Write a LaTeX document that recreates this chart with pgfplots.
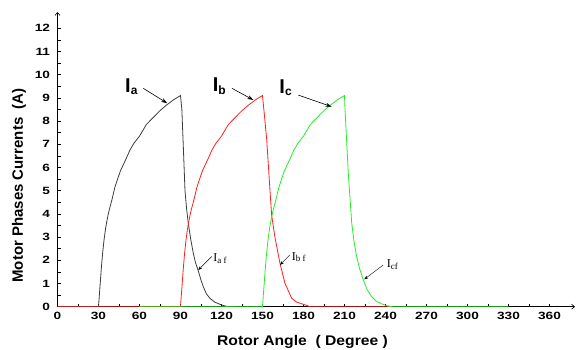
\documentclass[border=0pt]{standalone}
\usepackage{pgfplots}
\pgfplotsset{compat=1.18}
\usepackage{fontspec}
\setmainfont{Liberation Sans}
\newfontfamily\tickfont{Liberation Sans}[FakeStretch=1.3]
\newfontfamily\labfont{Liberation Sans}[FakeStretch=1.12]
\newfontfamily\serfont{Liberation Serif}
\usetikzlibrary{arrows.meta}
\definecolor{cA}{RGB}{60,60,60}
\definecolor{cB}{RGB}{255,30,30}
\definecolor{cC}{RGB}{40,235,40}
\newcommand\bigI[1]{{\fontsize{20}{20}\selectfont\bfseries I}\raisebox{-2.5pt}{\fontsize{12}{12}\selectfont\bfseries #1}}
\newcommand\smallI[1]{{\serfont\fontsize{12}{12}\selectfont I}\raisebox{-1.5pt}{\serfont\fontsize{9}{9}\selectfont #1}}
\begin{document}
\begin{tikzpicture}
\begin{axis}[
  scale only axis, width=517.5pt, height=294.7pt,
  xmin=0, xmax=378.7, ymin=0, ymax=12.7,
  axis lines=left,
  axis line style={line width=0.6pt,-{Straight Barb[length=3pt,width=5pt]}},
  xtick={0,30,...,360}, minor x tick num=1,
  ytick={0,1,...,12}, minor y tick num=1,
  tick align=inside, major tick length=3pt, minor tick length=3pt,
  tick style={black, line width=0.5pt},
  /pgf/number format/assume math mode=true,
  ticklabel style={font=\tickfont\bfseries\fontsize{10.5}{12}\selectfont},
  xticklabel style={yshift=-2pt},
  yticklabel style={xshift=-4pt},
  xlabel={\labfont\bfseries\fontsize{14}{16}\selectfont Rotor Angle\ \ ( Degree )},
  xlabel style={at={(axis description cs:0.4735,0)}, anchor=base, yshift=-38.3pt},
  ylabel={\bfseries\fontsize{15}{17}\selectfont Motor Phases Currents\ \ (A)},
  ylabel style={at={(axis description cs:-0.0744,0.4113)}, anchor=center},
  every axis plot/.append style={line width=0.8pt, no marks},
]
\addplot[cA] coordinates {
(0,0) (30,0) (31,0.8) (32,1.6) (33,2.3) (34,2.85) (35,3.3) (36,3.65) (37,3.95) (38,4.2)
(40,4.65) (42,5.15) (44,5.5) (46,5.85) (48,6.1) (50,6.35) (53,6.75) (56,7.05) (60,7.35)
(65,7.85) (70,8.15) (75,8.45) (80,8.7) (85,8.92) (90,9.1)
(91,8.5) (92.2,6.7) (93.3,5.0) (94.5,4.2) (95.7,3.6) (97.5,2.9) (99.4,2.3) (101,1.9)
(103,1.55) (105,1.15) (106.7,0.86) (109,0.55) (111.6,0.36) (115,0.2) (119,0.1) (122,0.04)
(125,0) (130,0)
};
\addplot[cB] coordinates {
(0,0) (90,0) (91,0.8) (92,1.6) (93,2.3) (94,2.85) (95,3.3) (96,3.65) (97,3.95) (98,4.2)
(100,4.65) (102,5.15) (104,5.5) (106,5.85) (108,6.1) (110,6.35) (113,6.75) (116,7.05) (120,7.35)
(125,7.85) (130,8.15) (135,8.45) (140,8.7) (145,8.92) (150,9.1)
(151.5,8.2) (153.1,7.2) (155.5,5.0) (156.7,3.95) (159.1,3.0) (162.8,1.87) (166.5,1.0)
(171.4,0.36) (175,0.2) (180,0.1) (185,0) (245,0)
};
\addplot[cC] coordinates {
(60,0) (150,0) (151,0.8) (152,1.6) (153,2.3) (154,2.85) (155,3.3) (156,3.65) (157,3.95) (158,4.2)
(160,4.65) (162,5.15) (164,5.5) (166,5.85) (168,6.1) (170,6.35) (173,6.75) (176,7.05) (180,7.35)
(185,7.85) (190,8.15) (195,8.45) (200,8.7) (205,8.92) (210,9.1)
(210.4,8.5) (212.8,5.75) (215.3,3.6) (217,2.8) (218.9,2.16) (221,1.65) (223.8,1.15)
(226.5,0.75) (229.9,0.43) (233,0.25) (237.2,0.12) (241,0.04) (244.5,0) (330,0)
};
% big labels
\node[anchor=base west, inner sep=0pt] at (axis cs:49.4,9.25) {\bigI{a}};
\node[anchor=base west, inner sep=0pt] at (axis cs:113.6,9.27) {\bigI{b}};
\node[anchor=base west, inner sep=0pt] at (axis cs:162.3,9.2) {\bigI{c}};
\draw[-{Stealth[length=6pt,width=4pt]}, line width=0.6pt] (axis cs:62.8,9.41) -- (axis cs:80.3,8.77);
\draw[-{Stealth[length=6pt,width=4pt]}, line width=0.6pt] (axis cs:127.7,9.41) -- (axis cs:143.3,8.91);
\draw[-{Stealth[length=6pt,width=4pt]}, line width=0.6pt] (axis cs:176.2,9.12) -- (axis cs:200.6,8.62);
% small labels
\node[anchor=base west, inner sep=0pt] at (axis cs:114,1.94) {\smallI{a f}};
\node[anchor=base west, inner sep=0pt] at (axis cs:171.4,2.01) {\smallI{b f}};
\node[anchor=base west, inner sep=0pt] at (axis cs:240.9,1.68) {\smallI{cf}};
\draw[-{Stealth[length=4pt,width=3pt]}, line width=0.4pt] (axis cs:112.8,2.16) -- (axis cs:103,1.58);
\draw[-{Stealth[length=4pt,width=3pt]}, line width=0.4pt] (axis cs:170.1,2.23) -- (axis cs:162.8,1.8);
\draw[-{Stealth[length=4pt,width=3pt]}, line width=0.4pt] (axis cs:238.4,1.8) -- (axis cs:224.5,1.18);
\end{axis}
\pgfresetboundingbox
\path (-57.5pt,-42.3pt) rectangle (525.5pt,306.7pt);
\end{tikzpicture}
\end{document}
